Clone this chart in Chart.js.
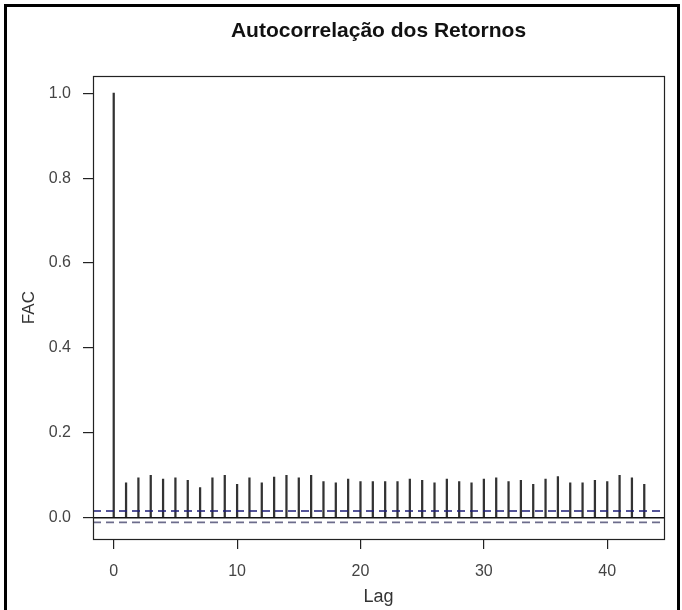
<!DOCTYPE html>
<html>
<head>
<meta charset="utf-8">
<script src="https://cdn.jsdelivr.net/npm/chart.js@4/dist/chart.umd.min.js"></script>
<style>
  html, body { margin: 0; padding: 0; background: #fff; }
  #wrap { width: 682px; height: 610px; position: relative; }
</style>
</head>
<body>
<div id="wrap"><canvas id="acf" width="682" height="610"></canvas></div>
<script>
// Lags and sample autocorrelation of the returns
const lags = [0, 1, 2, 3, 4, 5, 6, 7, 8, 9, 10, 11, 12, 13, 14, 15, 16, 17, 18, 19, 20, 21,
              22, 23, 24, 25, 26, 27, 28, 29, 30, 31, 32, 33, 34, 35, 36, 37, 38, 39, 40, 41, 42, 43];
const acfValues = [1.000, 0.082, 0.094, 0.100, 0.091, 0.094, 0.088, 0.071, 0.094, 0.100, 0.079,
                   0.094, 0.082, 0.096, 0.100, 0.094, 0.100, 0.085, 0.082, 0.091, 0.085, 0.085,
                   0.085, 0.085, 0.091, 0.088, 0.082, 0.091, 0.085, 0.082, 0.091, 0.094, 0.085,
                   0.088, 0.079, 0.091, 0.097, 0.082, 0.082, 0.088, 0.085, 0.100, 0.094, 0.079];
// Confidence band limits
const ciUpper = 0.016;
const ciLower = -0.011;
// Tick labels
const xTicks = [0, 10, 20, 30, 40];
const yTicks = [0.0, 0.2, 0.4, 0.6, 0.8, 1.0];

const xMin = -1.68, xMax = 44.6;
const yMin = -0.05, yMax = 1.04;

const bars = lags.map((l, i) => ({ x: l, y: acfValues[i] }));
const hLine = v => [{ x: xMin, y: v }, { x: xMax, y: v }];

// Outer frame around the whole figure and the box around the plot region
const framePlugin = {
  id: 'frame',
  beforeDraw(chart) {
    const ctx = chart.ctx;
    ctx.save();
    ctx.strokeStyle = '#000';
    ctx.lineWidth = 3;
    ctx.beginPath();
    ctx.moveTo(5.5, 640);
    ctx.lineTo(5.5, 5.5);
    ctx.lineTo(678.5, 5.5);
    ctx.lineTo(678.5, 640);
    ctx.stroke();
    ctx.restore();
  },
  afterDraw(chart) {
    const { left, top, right, bottom } = chart.chartArea;
    const ctx = chart.ctx;
    ctx.save();
    ctx.strokeStyle = '#222';
    ctx.lineWidth = 1.2;
    ctx.strokeRect(Math.round(left) + 0.5, Math.round(top) + 0.5,
                   Math.round(right - left), Math.round(bottom - top));
    ctx.restore();
  }
};

const fontFamily = '"Liberation Sans", Arial, sans-serif';

new Chart(document.getElementById('acf'), {
  type: 'bar',
  data: {
    datasets: [
      {
        type: 'line', label: 'upper', data: hLine(ciUpper), order: 0,
        borderColor: '#1c1c78', borderWidth: 1.5, borderDash: [8, 5],
        pointRadius: 0, fill: false
      },
      {
        type: 'line', label: 'lower', data: hLine(ciLower), order: 0,
        borderColor: '#6c6c8c', borderWidth: 1.8, borderDash: [8, 5],
        pointRadius: 0, fill: false
      },
      {
        type: 'line', label: 'zero', data: hLine(0), order: 0,
        borderColor: '#111', borderWidth: 1.6,
        pointRadius: 0, fill: false
      },
      {
        type: 'bar', label: 'FAC', data: bars, order: 1,
        backgroundColor: '#333', borderWidth: 0,
        barThickness: 1.6, grouped: false
      }
    ]
  },
  options: {
    responsive: false,
    animation: false,
    layout: { padding: { left: 0, right: 18, top: 0, bottom: 0 } },
    plugins: {
      legend: { display: false },
      tooltip: { enabled: false },
      title: {
        display: true,
        text: 'Autocorrelação dos Retornos',
        fullSize: false,
        color: '#111',
        font: { family: fontFamily, size: 21, weight: 'bold' },
        padding: { top: 19, bottom: 32 }
      }
    },
    scales: {
      x: {
        type: 'linear',
        min: xMin, max: xMax,
        offset: false,
        afterBuildTicks(scale) { scale.ticks = xTicks.map(v => ({ value: v })); },
        afterFit(scale) { scale.height = 71; },
        ticks: {
          color: '#444',
          padding: 13,
          font: { family: fontFamily, size: 16 },
          callback: v => String(v)
        },
        grid: { display: true, offset: false, drawOnChartArea: false, drawTicks: true, tickLength: 10, color: '#222', lineWidth: 1.2 },
        border: { display: false },
        title: {
          display: true, text: 'Lag', color: '#333',
          font: { family: fontFamily, size: 18 },
          padding: { top: 0, bottom: 2 }
        }
      },
      y: {
        type: 'linear',
        min: yMin, max: yMax,
        afterBuildTicks(scale) { scale.ticks = yTicks.map(v => ({ value: v })); },
        afterFit(scale) { scale.width = 93; },
        ticks: {
          color: '#444',
          padding: 12,
          font: { family: fontFamily, size: 16 },
          callback: v => Number(v).toFixed(1)
        },
        grid: { display: true, offset: false, drawOnChartArea: false, drawTicks: true, tickLength: 10, color: '#222', lineWidth: 1.2 },
        border: { display: false },
        title: {
          display: true, text: 'FAC', color: '#333',
          font: { family: fontFamily, size: 17 },
          padding: { top: 19, bottom: 0 }
        }
      }
    }
  },
  plugins: [framePlugin]
});
</script>
</body>
</html>
